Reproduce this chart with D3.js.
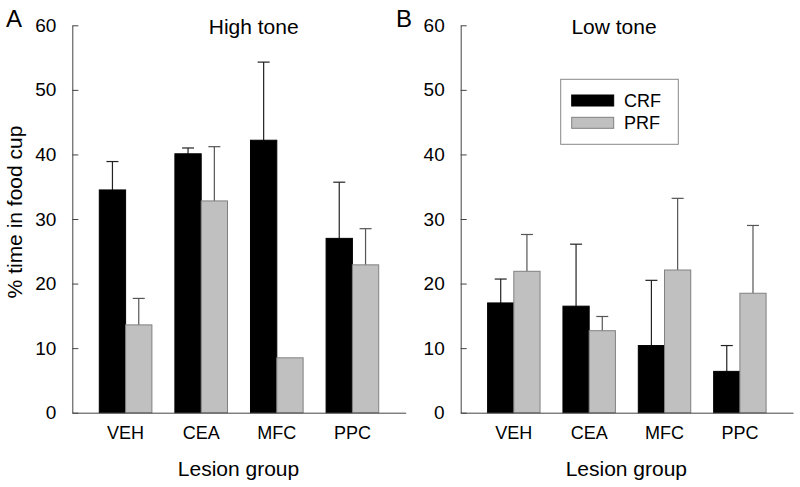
<!DOCTYPE html>
<html>
<head>
<meta charset="utf-8">
<script src="https://cdn.jsdelivr.net/npm/d3@7"></script>
<style>
  body { margin: 0; background: #fff; }
  svg { display: block; font-family: "Liberation Sans", Arial, sans-serif; }
</style>
</head>
<body>
<svg id="chart" width="800" height="487"></svg>
<script>
// ---- Data ----
const groups = ["VEH", "CEA", "MFC", "PPC"];
const seriesNames = ["CRF", "PRF"];
const yTicks = [0, 10, 20, 30, 40, 50, 60];

// Panel A: High tone
const highCRF = [34.5, 40.1, 42.2, 27.0];
const highCRFErr = [38.9, 41.0, 54.3, 35.7];
const highPRF = [13.6, 32.8, 8.5, 22.9];
const highPRFErr = [17.7, 41.2, null, 28.5];

// Panel B: Low tone
const lowCRF = [17.0, 16.5, 10.4, 6.4];
const lowCRFErr = [20.7, 26.1, 20.5, 10.4];
const lowPRF = [21.9, 12.7, 22.1, 18.5];
const lowPRFErr = [27.6, 14.9, 33.2, 29.0];

const colors = { CRF: "#000000", PRF: "#c0c0c0" };
const strokes = { CRF: "#000000", PRF: "#808080" };

const svg = d3.select("#chart");
const axisColor = "#444";

const panels = [
  { label: "A", title: "High tone", titleX: 253.7, x0: 72.3, x1: 405.7, crf: highCRF, crfE: highCRFErr, prf: highPRF, prfE: highPRFErr, labelX: 6, legend: false },
  { label: "B", title: "Low tone", titleX: 614, x0: 460.7, x1: 793, crf: lowCRF, crfE: lowCRFErr, prf: lowPRF, prfE: lowPRFErr, labelX: 396, legend: true }
];

const y = d3.scaleLinear().domain([0, 60]).range([412.7, 25.3]);

panels.forEach(p => {
  const g = svg.append("g");
  const x = d3.scaleBand().domain(groups).range([p.x0, p.x1]).paddingInner(0.304).paddingOuter(0.357);
  const xs = d3.scaleBand().domain(seriesNames).range([0, x.bandwidth()]).padding(0);

  const rows = [];
  groups.forEach((grp, i) => {
    rows.push({ grp, s: "CRF", v: p.crf[i], e: p.crfE[i] });
    rows.push({ grp, s: "PRF", v: p.prf[i], e: p.prfE[i] });
  });

  // error bars (drawn behind bars)
  rows.filter(d => d.e != null).forEach(d => {
    const cx = x(d.grp) + xs(d.s) + xs.bandwidth() / 2;
    const c = d.s === "CRF" ? "#222" : "#555";
    g.append("line").attr("x1", cx).attr("x2", cx)
      .attr("y1", y(d.v)).attr("y2", y(d.e))
      .attr("stroke", c).attr("stroke-width", 1.2);
    g.append("line").attr("x1", cx - 6).attr("x2", cx + 6)
      .attr("y1", y(d.e)).attr("y2", y(d.e))
      .attr("stroke", c).attr("stroke-width", 1.2);
  });

  g.selectAll("rect.bar").data(rows).enter().append("rect")
    .attr("class", "bar")
    .attr("x", d => x(d.grp) + xs(d.s))
    .attr("width", xs.bandwidth())
    .attr("y", d => y(d.v))
    .attr("height", d => y(0) - y(d.v))
    .attr("fill", d => colors[d.s])
    .attr("stroke", d => strokes[d.s])
    .attr("stroke-width", 1);

  // y axis
  const yAxis = d3.axisLeft(y).tickValues(yTicks).tickSizeInner(-6).tickSizeOuter(0).tickPadding(16);
  const ya = g.append("g").attr("transform", `translate(${p.x0},0)`).call(yAxis);
  ya.select(".domain").attr("stroke", axisColor);
  ya.selectAll(".tick line").attr("stroke", axisColor);
  ya.selectAll(".tick text").attr("font-size", 19).attr("fill", "#000")
    .attr("font-family", "'Liberation Sans', Arial, sans-serif");

  // x axis
  const xAxis = d3.axisBottom(x).tickSize(0).tickPadding(14);
  const xa = g.append("g").attr("transform", `translate(0,${y(0)})`).call(xAxis);
  xa.select(".domain").attr("stroke", axisColor);
  xa.selectAll(".tick text").attr("font-size", 18).attr("fill", "#000")
    .attr("font-family", "'Liberation Sans', Arial, sans-serif");

  // title
  g.append("text").attr("x", p.titleX).attr("y", 34.3)
    .attr("text-anchor", "middle").attr("font-size", 21).text(p.title);

  // x axis label
  g.append("text").attr("x", (p.x0 + p.x1) / 2 - 0.5).attr("y", 475.5)
    .attr("text-anchor", "middle").attr("font-size", 21).text("Lesion group");

  // panel letter
  g.append("text").attr("x", p.labelX).attr("y", 26.5)
    .attr("font-size", 24).text(p.label);

  if (p.legend) {
    const lg = svg.append("g");
    lg.append("rect").attr("x", 560.7).attr("y", 79.3).attr("width", 117.6).attr("height", 65)
      .attr("fill", "#fff").attr("stroke", "#888").attr("stroke-width", 1);
    seriesNames.forEach((s, i) => {
      lg.append("rect").attr("x", 571.7).attr("y", 95 + i * 22.3).attr("width", 42).attr("height", 11)
        .attr("fill", colors[s]).attr("stroke", strokes[s]).attr("stroke-width", 1);
      lg.append("text").attr("x", 624).attr("y", 106.7 + i * 22.2)
        .attr("font-size", 18).text(s);
    });
  }
});

// y axis label
svg.append("text").attr("transform", "translate(22,212) rotate(-90)")
  .attr("text-anchor", "middle").attr("font-size", 21).text("% time in food cup");
</script>
</body>
</html>
